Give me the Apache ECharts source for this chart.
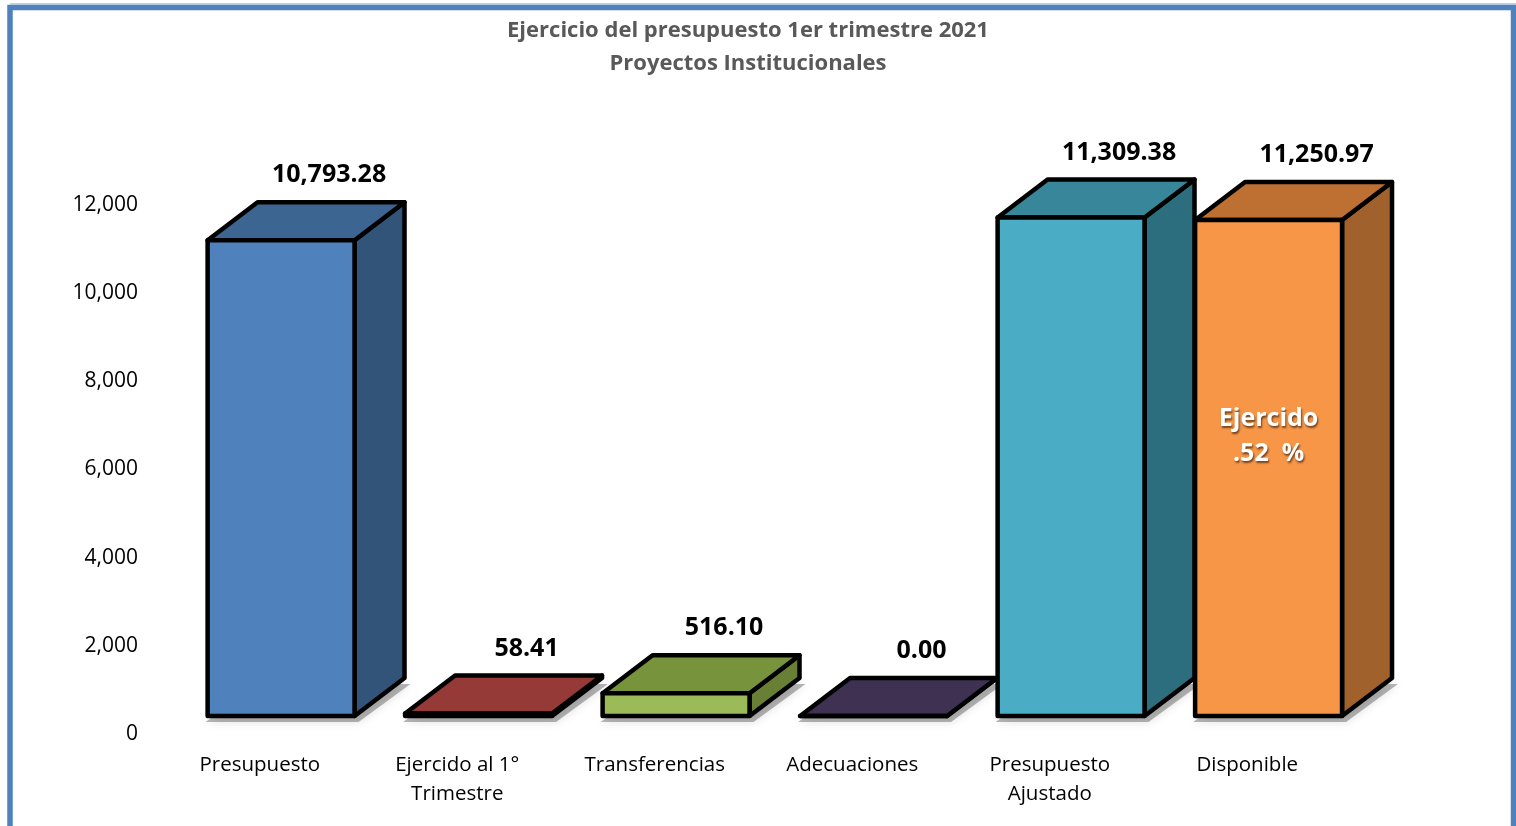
<!DOCTYPE html>
<html>
<head>
<meta charset="utf-8">
<script src="https://cdn.jsdelivr.net/npm/echarts@6/dist/echarts.min.js"></script>
<style>
  html, body { margin: 0; padding: 0; background: #fff; }
  #chart { width: 1516px; height: 826px; }
</style>
</head>
<body>
<div id="chart"></div>
<script>
// data
const categories = [
  "Presupuesto",
  "Ejercido al 1°\nTrimestre",
  "Transferencias",
  "Adecuaciones",
  "Presupuesto\nAjustado",
  "Disponible"
];
const values = [10793.28, 58.41, 516.10, 0.00, 11309.38, 11250.97];
const notes = ["", "", "", "", "", "Ejercido\n.52  %"];
const yTicks = [0, 2000, 4000, 6000, 8000, 10000, 12000];

// face colours: front / top / side
const faceColors = [
  ["#4F81BD", "#3C6591", "#335479"],
  ["#C0504D", "#953A37", "#7F302E"],
  ["#9BBB59", "#77933C", "#687F35"],
  ["#8064A2", "#3F3151", "#362A46"],
  ["#4BACC6", "#38869A", "#2C6E7D"],
  ["#F79646", "#BE7032", "#A0612C"]
];

const chart = echarts.init(document.getElementById("chart"));

const fmt = v =>
  Number(v).toLocaleString("en-US", { minimumFractionDigits: 2, maximumFractionDigits: 2 });

const renderBar = (params, api) => {
  const idx = api.value(0);
  const v = api.value(1);
  const base = api.coord([idx, 0]);
  const top = api.coord([idx, v]);
  const bw = api.size([1, 0])[0];
  const lift = 18; // floor of the 3d box sits a bit above the axis zero
  const x0 = base[0] - bw * 0.264;
  const fw = bw * 0.744;
  const x1 = x0 + fw;
  const dx = bw * 0.253;
  const dy = 38;
  const yb = base[1] - lift;
  const yt = top[1] - lift;
  const c = faceColors[idx];
  const line = { stroke: "#000", lineWidth: 4.5, lineJoin: "round" };
  const sy = 6; // floor shadow drop

  const children = [
    {
      type: "polygon",
      shape: {
        points: [
          [x0 - 2, yb + sy],
          [x1 + 4, yb + sy],
          [x1 + dx + 6, yb - dy + sy],
          [x0 + dx, yb - dy + sy]
        ]
      },
      style: {
        fill: "rgba(0,0,0,0.28)",
        shadowColor: "rgba(0,0,0,0.45)",
        shadowBlur: 10
      },
      silent: true
    },
    {
      type: "polygon",
      shape: { points: [[x1, yb], [x1 + dx, yb - dy], [x1 + dx, yt - dy], [x1, yt]] },
      style: Object.assign({ fill: c[2] }, line)
    },
    {
      type: "polygon",
      shape: { points: [[x0, yt], [x1, yt], [x1 + dx, yt - dy], [x0 + dx, yt - dy]] },
      style: Object.assign({ fill: c[1] }, line)
    },
    {
      type: "rect",
      shape: { x: x0, y: yt, width: fw, height: yb - yt },
      style: Object.assign({ fill: c[0] }, line)
    },
    {
      type: "text",
      style: {
        text: fmt(v),
        x: x0 + dx + fw / 2 - 2,
        y: yt - dy - 27,
        align: "center",
        verticalAlign: "middle",
        font: "bold 25px 'Open Sans', sans-serif",
        fill: "#000"
      }
    }
  ];

  if (notes[idx]) {
    children.push({
      type: "text",
      style: {
        text: notes[idx],
        x: x0 + fw / 2,
        y: yt + (yb - yt) * 0.43 + 3,
        align: "center",
        verticalAlign: "middle",
        font: "bold 25px 'Open Sans', sans-serif",
        lineHeight: 35,
        fill: "#fff",
        textShadowColor: "rgba(0,0,0,0.55)",
        textShadowBlur: 2,
        textShadowOffsetX: 1,
        textShadowOffsetY: 2
      }
    });
  }
  return { type: "group", children };
};

const option = {
  animation: false,
  backgroundColor: "#fff",
  title: {
    text: "Ejercicio del presupuesto 1er trimestre 2021\nProyectos Institucionales",
    left: 743,
    top: 9,
    textAlign: "center",
    textStyle: {
      color: "#595959",
      fontFamily: "'Open Sans', sans-serif",
      fontWeight: "bold",
      fontSize: 22,
      lineHeight: 33
    }
  },
  graphic: [
    {
      type: "rect",
      shape: { x: 10, y: 7.5, width: 1503.5, height: 900 },
      style: { fill: "none", stroke: "#4F81BD", lineWidth: 5.5 },
      silent: true
    },
    {
      type: "line",
      shape: { x1: 10, y1: 4, x2: 1516, y2: 4 },
      style: { stroke: "#A9C0DE", lineWidth: 1.5 },
      silent: true
    }
  ],
  grid: { left: 161, right: 170, top: 205, bottom: 92, containLabel: false },
  xAxis: {
    type: "category",
    data: categories,
    axisLine: { show: false },
    axisTick: { show: false },
    axisLabel: {
      interval: 0,
      margin: 17,
      color: "#000",
      fontFamily: "'Open Sans', sans-serif",
      fontSize: 20.5,
      lineHeight: 29
    },
    splitLine: { show: false }
  },
  yAxis: {
    type: "value",
    min: yTicks[0],
    max: yTicks[yTicks.length - 1],
    interval: yTicks[1] - yTicks[0],
    axisLine: { show: false },
    axisTick: { show: false },
    splitLine: { show: false },
    axisLabel: {
      margin: 23,
      color: "#000",
      fontFamily: "'Open Sans', sans-serif",
      fontSize: 21,
      formatter: v => Number(v).toLocaleString("en-US")
    }
  },
  series: [
    {
      type: "custom",
      renderItem: renderBar,
      clip: false,
      encode: { x: 0, y: 1 },
      data: values.map((v, i) => [i, v])
    }
  ]
};

chart.setOption(option);
</script>
</body>
</html>
